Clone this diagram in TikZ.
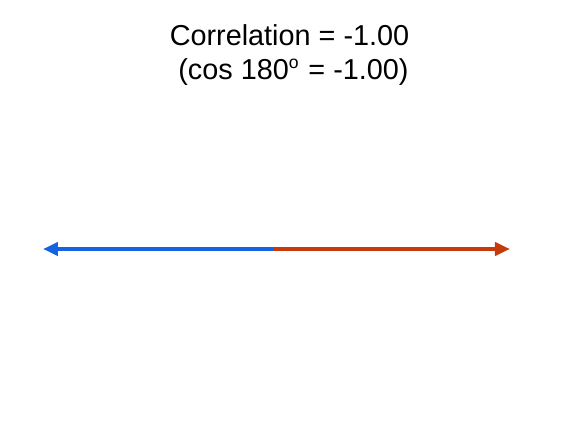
\documentclass[tikz,border=0pt]{standalone}
\usepackage{fontspec}
\setmainfont{Liberation Sans}
\usepackage{tikz}
\usepackage{xcolor}
\usetikzlibrary{arrows.meta}
\definecolor{vecblue}{HTML}{1562E2}
\definecolor{vecred}{HTML}{C63A0C}

\begin{document}
\begin{tikzpicture}[x=1cm,y=1cm,
  vector/.style={line width=1.2pt,-{Triangle[length=0.15cm,width=0.13cm]}}]
\useasboundingbox[fill=white] (0,0) rectangle (5.76,4.32);
\node[align=center,font=\fontsize{8.2}{9.6}\selectfont] (title) at (2.895,3.77) {Correlation = -1.00\\\ (cos 180{\scriptsize\textsuperscript{o}} = -1.00)};
\coordinate (mid) at (2.74,1.83);
\coordinate (left) at (0.43,1.83);
\coordinate (right) at (5.10,1.83);
\draw[vector,color=vecblue] (mid) -- (left);
\draw[vector,color=vecred] (mid) -- (right);
\end{tikzpicture}
\end{document}
